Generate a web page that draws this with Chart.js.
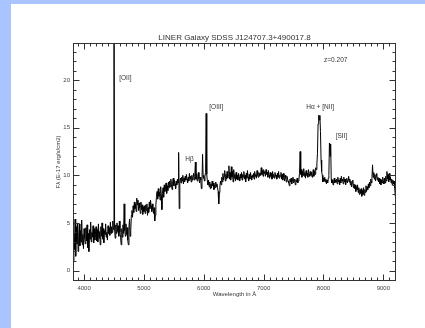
<!DOCTYPE html>
<html><head><meta charset="utf-8">
<script src="https://cdn.jsdelivr.net/npm/chart.js@4"></script>
<style>
html,body{margin:0;padding:0;background:#fff;}
#wrap{position:relative;width:425px;height:328px;}
canvas{display:block;}
</style></head><body>
<div id="wrap"><canvas id="c" width="425" height="328"></canvas></div>
<script>
const TITLE = "LINER Galaxy SDSS J124707.3+490017.8";
const X_TITLE = "Wavelength in Å";
const Y_TITLE = "Fλ (E-17 erg/s/cm2)";
// spectrum sampled every 10 Å starting at 3820 Å
const WAVE_START = 3820, WAVE_STEP = 10;
const FLUX = [
  1.0, 3.9, 2.2, 5.4, 1.5, 4.6, 2.8, 5.0, 2.0, 3.6, 4.9, 2.6, 4.2, 3.0, 5.3, 2.7, 3.8, 2.3, 4.4, 3.4,          // 3820-4010
  2.8, 4.5, 3.1, 4.8, 2.4, 3.9, 2.0, 4.3, 3.3, 5.1, 3.0, 4.0, 3.5, 4.7, 2.9, 4.4, 3.2, 3.8, 4.6, 3.1,          // 4020-4210
  4.3, 3.0, 4.9, 3.4, 4.1, 2.7, 4.6, 3.6, 5.0, 3.3, 4.4, 2.9, 4.2, 3.8, 4.9, 3.5, 4.0, 3.2, 4.7, 3.9,          // 4220-4410
  4.5, 3.7, 5.1, 3.9, 4.6, 4.0, 5.2, 4.3, 30, 4.4, 3.4, 4.8, 3.9, 5.0, 4.1, 4.7, 3.6, 5.2, 4.0, 3.5,           // 4420-4610
  2.7, 4.4, 3.5, 4.8, 3.9, 7.0, 4.2, 3.6, 4.9, 3.8, 4.5, 3.2, 2.7, 4.6, 5.4, 3.6, 4.2, 5.8, 6.3, 5.6,          // 4620-4810
  6.8, 6.1, 7.2, 6.5, 7.0, 6.2, 7.6, 6.9, 7.4, 6.3, 7.1, 6.6, 6.0, 7.2, 6.4, 6.9, 5.9, 6.7, 6.2, 6.8,          // 4820-5010
  6.0, 6.9, 6.3, 7.0, 5.8, 6.6, 6.1, 7.2, 6.5, 7.4, 6.8, 6.2, 7.0, 6.4, 6.0, 6.6, 5.2, 5.8, 6.9, 7.8,          // 5020-5210
  8.3, 7.5, 8.6, 7.8, 8.2, 7.4, 8.8, 7.9, 6.4, 8.1, 8.7, 7.7, 9.0, 8.3, 8.6, 9.2, 8.1, 8.9, 8.4, 9.3,          // 5220-5410
  8.7, 9.4, 8.8, 9.6, 9.0, 8.5, 9.3, 9.7, 8.9, 9.5, 9.1, 8.6, 9.4, 9.0, 9.6, 9.2, 12.4, 6.5, 9.3, 9.7,        // 5420-5610
  9.2, 9.8, 9.4, 10.0, 9.1, 9.7, 9.3, 9.9, 9.5, 10.1, 9.6, 9.2, 9.8, 9.4, 10.2, 9.6, 9.9, 9.3, 10.0, 9.5,     // 5620-5810
  9.8, 10.2, 9.5, 9.9, 11.4, 9.6, 10.1, 9.4, 9.9, 10.3, 9.6, 9.2, 9.8, 9.5, 8.6, 9.4, 12.2, 9.7, 10.0, 9.4,   // 5820-6010
  9.9, 10.3, 16.5, 10.1, 9.4, 9.0, 9.5, 8.8, 9.3, 8.6, 9.1, 8.7, 9.4, 8.9, 9.2, 8.5, 9.0, 8.7, 9.3, 8.8,      // 6020-6210
  9.1, 8.7, 8.3, 7.0, 8.2, 8.9, 9.4, 9.0, 9.8, 9.3, 10.2, 9.5, 9.9, 10.5, 9.4, 10.1, 9.6, 10.4, 9.7, 10.0,    // 6220-6410
  11.0, 9.6, 10.3, 9.5, 10.9, 9.8, 10.4, 9.3, 10.6, 9.7, 10.1, 9.4, 10.3, 9.6, 10.0, 9.5, 10.2, 9.8, 9.4, 10.1, // 6420-6610
  9.7, 10.3, 9.5, 10.1, 9.8, 10.4, 9.6, 10.0, 9.3, 10.2, 9.7, 10.5, 9.8, 9.4, 10.1, 9.6, 10.3, 9.9, 9.5, 10.0, // 6620-6810
  9.8, 10.2, 9.6, 10.4, 9.9, 10.1, 9.7, 10.5, 10.0, 9.8, 10.3, 9.9, 10.2, 10.0, 10.8, 10.1, 10.5, 9.9, 10.6, 10.2, // 6820-7010
  10.4, 9.9, 10.6, 10.1, 10.3, 9.8, 10.5, 10.0, 9.7, 10.3, 9.9, 10.2, 9.6, 10.4, 9.8, 10.1, 9.7, 10.3, 9.9, 10.0, // 7020-7210
  9.6, 10.2, 9.8, 10.4, 9.7, 10.0, 9.9, 10.3, 9.6, 10.1, 9.5, 10.2, 9.8, 9.4, 10.0, 9.7, 9.3, 9.9, 9.6, 9.4,   // 7220-7410
  9.2, 8.9, 9.6, 9.3, 9.7, 9.1, 9.5, 9.8, 9.2, 9.6, 9.4, 9.0, 9.5, 9.3, 9.7, 9.2, 9.4, 9.6, 10.2, 12.5,       // 7420-7610
  10.1, 10.6, 9.8, 10.4, 10.0, 10.7, 9.9, 10.3, 9.7, 10.5, 10.0, 10.2, 9.8, 10.6, 10.1, 9.9, 10.4, 10.0, 10.3, 9.8, // 7620-7810
  10.2, 10.6, 9.9, 10.4, 10.1, 10.8, 10.6, 11.2, 12.3, 15.4, 16.3, 15.8, 16.3, 14.6, 11.6, 10.4, 10.0, 9.3, 9.7, 9.4, // 7820-8010
  9.8, 9.3, 9.6, 9.1, 9.5, 9.2, 9.7, 10.0, 13.4, 12.0, 13.3, 9.6, 9.2, 9.5, 9.0, 9.4, 9.7, 9.2, 9.5, 9.3,     // 8020-8210
  9.6, 9.1, 9.8, 9.3, 9.5, 9.0, 9.7, 9.2, 9.9, 9.4, 9.6, 9.1, 9.8, 9.3, 9.6, 9.0, 9.4, 9.7, 9.2, 9.5,         // 8220-8410
  9.9, 9.3, 9.6, 9.0, 9.4, 8.8, 9.2, 9.5, 8.7, 9.1, 8.6, 9.0, 8.3, 8.8, 8.5, 9.0, 8.2, 8.7, 8.0, 8.5,         // 8420-8610
  8.1, 8.6, 7.8, 8.4, 8.0, 8.7, 7.9, 8.5, 8.2, 8.9, 8.3, 8.8, 8.5, 9.1, 8.7, 9.3, 8.9, 9.6, 9.2, 9.7,         // 8620-8810
  11.1, 9.8, 10.3, 9.6, 10.1, 9.4, 9.9, 10.2, 9.5, 9.8, 9.3, 9.7, 9.1, 9.6, 9.0, 9.5, 9.2, 9.8, 9.4, 9.1,     // 8820-9010
  9.7, 9.2, 9.9, 9.4, 10.4, 9.6, 10.1, 9.3, 10.2, 9.5, 9.8, 9.2, 9.6, 9.0, 9.5, 9.1, 9.4, 8.7, 7.8            // 9020-9200
];
const X_TICKS = [4000, 5000, 6000, 7000, 8000, 9000];
const Y_TICKS = [0, 5, 10, 15, 20];
const X_RANGE = [3815, 9212];
const Y_RANGE = [-1.1, 23.9];
const LINE_LABELS = ["[OII]", "[OIII]", "Hβ", "Hα + [NII]", "[SII]", "z=0.207"];
const LINE_LABEL_X = [4690, 6210, 5760, 7945, 8300, 8205];
const LINE_LABEL_Y = [20.2, 17.2, 11.7, 17.2, 14.1, 22.1];

const points = FLUX.map((f, i) => ({x: WAVE_START + i * WAVE_STEP, y: f}));
const FONT = '"Liberation Sans", Arial, sans-serif';

const decor = {
  id: 'decor',
  beforeDraw(chart) {
    const ctx = chart.ctx;
    ctx.save();
    ctx.fillStyle = '#a9c4fe';
    ctx.fillRect(0, 0, chart.width, chart.height);
    ctx.fillStyle = '#ffffff';
    ctx.fillRect(11, 4, chart.width - 11, chart.height - 4);
    ctx.restore();
  },
  afterDraw(chart) {
    const {ctx, chartArea: a, scales: {x, y}} = chart;
    ctx.save();
    ctx.strokeStyle = '#333';
    ctx.lineWidth = 1;
    const L = Math.round(a.left) + 0.5, R = Math.round(a.right) - 0.5;
    const T = Math.round(a.top) + 0.5, B = Math.round(a.bottom) - 0.5;
    ctx.strokeRect(L, T, R - L, B - T);
    ctx.beginPath();
    for (let v = Math.ceil(x.min / 100) * 100; v <= x.max; v += 100) {
      const px = Math.round(x.getPixelForValue(v)) + 0.5;
      const len = v % 1000 === 0 ? 6 : 3;
      ctx.moveTo(px, B); ctx.lineTo(px, B - len);
      ctx.moveTo(px, T); ctx.lineTo(px, T + len);
    }
    for (let v = Math.ceil(y.min); v <= y.max; v += 1) {
      const py = Math.round(y.getPixelForValue(v)) + 0.5;
      const len = v % 5 === 0 ? 6 : 3;
      ctx.moveTo(L, py); ctx.lineTo(L + len, py);
      ctx.moveTo(R, py); ctx.lineTo(R - len, py);
    }
    ctx.stroke();
    ctx.fillStyle = '#333';
    ctx.textAlign = 'center';
    ctx.textBaseline = 'middle';
    ctx.font = '8px ' + FONT;
    ctx.fillText(TITLE, (a.left + a.right) / 2, 38);
    ctx.font = '6.5px ' + FONT;
    LINE_LABELS.forEach((t, i) => {
      ctx.fillText(t, x.getPixelForValue(LINE_LABEL_X[i]), y.getPixelForValue(LINE_LABEL_Y[i]));
    });
    ctx.restore();
  }
};

new Chart(document.getElementById('c'), {
  type: 'line',
  data: {datasets: [{data: points, borderColor: '#000', borderWidth: 1, pointRadius: 0, tension: 0, fill: false}]},
  options: {
    responsive: false, animation: false, devicePixelRatio: 1,
    layout: {padding: {left: 50, top: 43, right: 29, bottom: 0}},
    plugins: {legend: {display: false}, tooltip: {enabled: false}},
    scales: {
      x: {
        type: 'linear', min: X_RANGE[0], max: X_RANGE[1],
        afterBuildTicks: s => { s.ticks = X_TICKS.map(v => ({value: v})); },
        afterFit: s => { s.height = 47; },
        grid: {display: false, drawTicks: false},
        border: {display: false},
        ticks: {padding: 4, color: '#444', font: {size: 6, family: FONT}, maxRotation: 0, autoSkip: false,
                callback: v => String(v)},
        title: {display: true, text: X_TITLE, color: '#333', font: {size: 6, family: FONT}, padding: {top: 0, bottom: 29.7}}
      },
      y: {
        type: 'linear', min: Y_RANGE[0], max: Y_RANGE[1],
        afterBuildTicks: s => { s.ticks = Y_TICKS.map(v => ({value: v})); },
        afterFit: s => { s.width = 23; },
        grid: {display: false, drawTicks: false},
        border: {display: false},
        ticks: {padding: 3, color: '#444', font: {size: 6, family: FONT}, autoSkip: false,
                callback: v => String(v)},
        title: {display: true, text: Y_TITLE, color: '#333', font: {size: 6, family: FONT}, padding: {top: 5, bottom: 0}}
      }
    }
  },
  plugins: [decor]
});
</script>
</body></html>
